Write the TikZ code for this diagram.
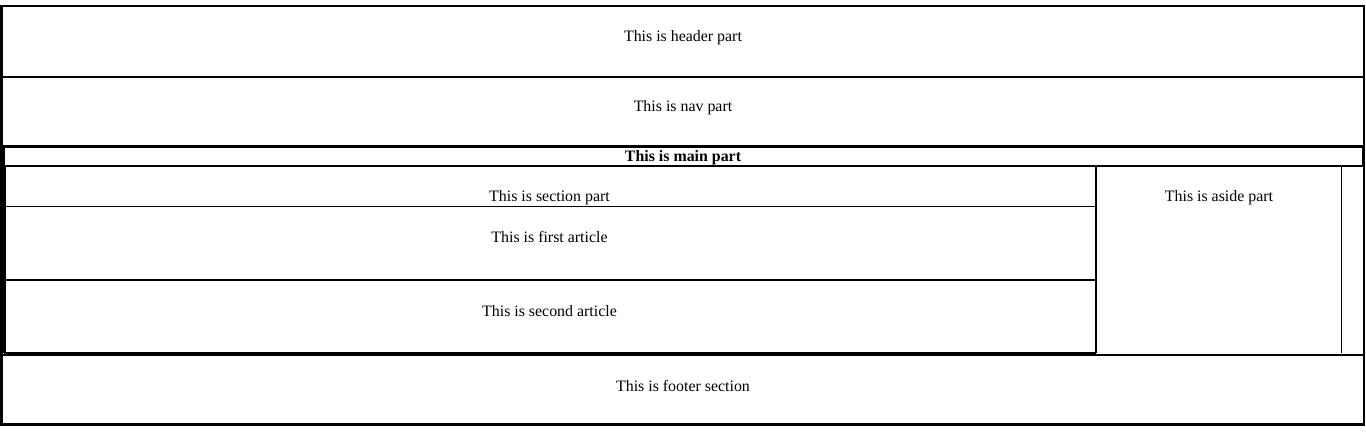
\documentclass[tikz,border=0pt]{standalone}
\usepackage{fontspec}
\setmainfont{Liberation Serif}
\begin{document}
\begin{tikzpicture}[x=1pt,y=-1pt,
  lbl/.style={font=\fontsize{15.9}{18}\selectfont, inner sep=0pt},
  box/.style={draw=black}]
\useasboundingbox[fill=white] (0,0) rectangle (1366,439);
% outer
\draw[box,line width=2.5] (1.5,6) rectangle (1364,424.5);
% header / nav
\draw[box,line width=2] (1.5,76.5) -- (1364,76.5);
\draw[box,line width=2] (1.5,146) -- (1364,146);
\node[lbl] (header) at (683,38) {This is header part};
\node[lbl] (nav) at (683,108) {This is nav part};
% main bar
\draw[box,line width=2] (3.5,147) rectangle (1362.5,166);
\node[lbl,font=\fontsize{15.9}{18}\selectfont\bfseries] (main) at (683,157.5) {This is main part};
% section
\draw[box,line width=3] (4,166) -- (4,353);
\draw[box,line width=2.5] (4,353) -- (1096,353);
\draw[box,line width=2] (1096,166) -- (1096,353);
\node[lbl] (section) at (549.5,198) {This is section part};
% articles
\draw[box,line width=1] (5,206.5) -- (1096,206.5);
\draw[box,line width=2] (5,280) -- (1096,280);
\node[lbl] (art1) at (549.5,237) {This is first article};
\node[lbl] (art2) at (549.5,311) {This is second article};
% aside
\draw[box,line width=1] (1341.5,166) -- (1341.5,353);
\node[lbl] (aside) at (1219,198) {This is aside part};
% footer
\draw[box,line width=2] (1.5,354.5) -- (1364,354.5);
\node[lbl] (footer) at (683,386) {This is footer section};
\end{tikzpicture}
\end{document}
